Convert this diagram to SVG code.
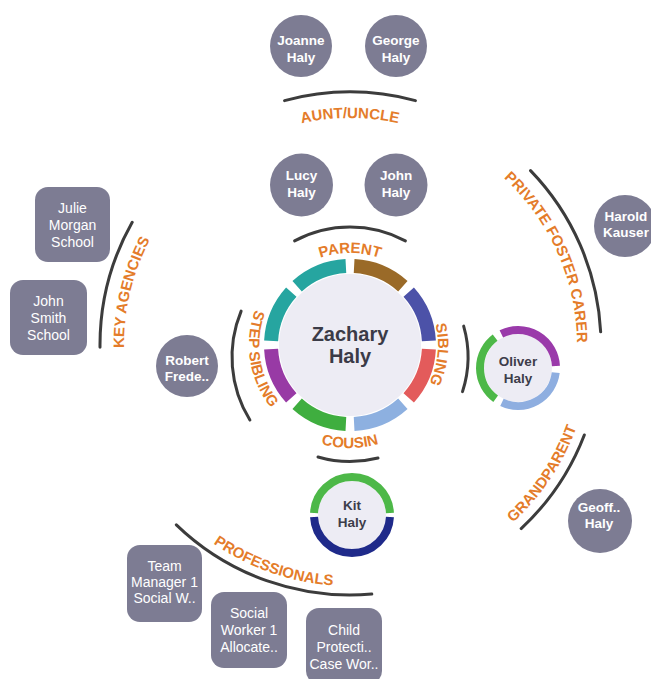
<svg xmlns="http://www.w3.org/2000/svg" width="651" height="679" viewBox="0 0 651 679">
<style>
.bg{fill:#ffffff}
.node{fill:#7d7c93}
.nt{font-family:"Liberation Sans",Arial,sans-serif;font-weight:bold;font-size:13.5px;fill:#ffffff;text-anchor:middle}
.bt{font-family:"Liberation Sans",Arial,sans-serif;font-size:14px;fill:#ffffff;text-anchor:middle}
.disc{fill:#edecf4}
.dt{font-family:"Liberation Sans",Arial,sans-serif;font-weight:bold;font-size:13.5px;fill:#3d3d4a;text-anchor:middle}
.ct{font-family:"Liberation Sans",Arial,sans-serif;font-weight:bold;font-size:20px;fill:#3b3b47;text-anchor:middle}
.seg{fill:none;stroke-width:14}
.seg2{fill:none;stroke-width:8}
.line{fill:none;stroke:#3c3c3c;stroke-width:3;stroke-linecap:round}
.lab{font-family:"Liberation Sans",Arial,sans-serif;font-weight:bold;font-size:15px;fill:#e47c2a}
</style>
<defs>
<path id="tp-parent" d="M270.32,299 A92,92 0 0 1 429.68,299"/>
<path id="tp-sibling" d="M401.73,273.81 A88,88 0 0 1 385.79,425.39"/>
<path id="tp-step" d="M286.44,266.51 A101,101 0 0 0 313.80,439.29"/>
<path id="tp-cousin" d="M260.80,396.5 A103,103 0 0 0 439.20,396.5"/>
<path id="tp-aunt" d="M153.41,231.5 A227,227 0 0 1 546.59,231.5"/>
<path id="tp-key" d="M194.43,508.93 A226,226 0 0 1 285.81,128.31"/>
<path id="tp-pfc" d="M373.73,119.24 A227,227 0 0 1 533.65,478.43"/>
<path id="tp-grand" d="M334.45,585.50 A241,241 0 0 0 566.05,238.22"/>
<path id="tp-prof" d="M113.19,389.75 A241,241 0 0 0 507.16,527.71"/>
</defs>
<rect class="bg" x="0" y="0" width="651" height="679"/>

<g id="connectors">
<path class="line" d="M294.60,240.81 A118,118 0 0 1 405.40,240.81"/>
<path class="line" d="M463.66,326.13 A112,112 0 0 1 462.52,391.61"/>
<path class="line" d="M241.13,311.08 A120,120 0 0 0 249.90,420.06"/>
<path class="line" d="M318,457 A115,115 0 0 0 378,458"/>
<path class="line" d="M284.52,100.62 A253,253 0 0 1 415.48,100.62"/>
<path class="line" d="M100.01,347.18 A250,250 0 0 1 132.20,222.28"/>
<path class="line" d="M530.55,170.64 A251,251 0 0 1 600.66,331.86"/>
<path class="line" d="M584.33,434.95 A251,251 0 0 1 521.18,528.57"/>
<path class="line" d="M371.79,594.05 A250,250 0 0 1 176.34,524.84"/>
</g>

<g id="labels">
<text class="lab"><textPath href="#tp-parent" startOffset="50%" text-anchor="middle">PARENT</textPath></text>
<text class="lab"><textPath href="#tp-sibling" startOffset="50%" text-anchor="middle">SIBLING</textPath></text>
<text class="lab"><textPath href="#tp-step" startOffset="50%" text-anchor="middle">STEP SIBLING</textPath></text>
<text class="lab"><textPath href="#tp-cousin" startOffset="50%" text-anchor="middle">COUSIN</textPath></text>
<text class="lab"><textPath href="#tp-aunt" startOffset="50%" text-anchor="middle">AUNT/UNCLE</textPath></text>
<text class="lab"><textPath href="#tp-key" startOffset="50%" text-anchor="middle">KEY AGENCIES</textPath></text>
<text class="lab"><textPath href="#tp-pfc" startOffset="50%" text-anchor="middle">PRIVATE FOSTER CARER</textPath></text>
<text class="lab"><textPath href="#tp-grand" startOffset="50%" text-anchor="middle">GRANDPARENT</textPath></text>
<text class="lab"><textPath href="#tp-prof" startOffset="50%" text-anchor="middle">PROFESSIONALS</textPath></text>
</g>

<g id="zachary">
<circle class="disc" cx="350" cy="345" r="71"/>
<path class="seg" stroke="#9a6a28" d="M354.13,266.11 A79,79 0 0 1 402.86,286.29"/>
<path class="seg" stroke="#4c52a8" d="M408.71,292.14 A79,79 0 0 1 428.89,340.87"/>
<path class="seg" stroke="#e35b5b" d="M428.89,349.13 A79,79 0 0 1 408.71,397.86"/>
<path class="seg" stroke="#8db0e0" d="M402.86,403.71 A79,79 0 0 1 354.13,423.89"/>
<path class="seg" stroke="#3fae3f" d="M345.87,423.89 A79,79 0 0 1 297.14,403.71"/>
<path class="seg" stroke="#983aa5" d="M291.29,397.86 A79,79 0 0 1 271.11,349.13"/>
<path class="seg" stroke="#26a5a0" d="M271.11,340.87 A79,79 0 0 1 291.29,292.14"/>
<path class="seg" stroke="#26a5a0" d="M297.14,286.29 A79,79 0 0 1 345.87,266.11"/>
<text class="ct" x="350" y="341">Zachary</text>
<text class="ct" x="350" y="363">Haly</text>
</g>

<g id="oliver">
<circle class="disc" cx="518" cy="368" r="34"/>
<path class="seg2" stroke="#9a3aaa" d="M501.34,333.85 A38,38 0 0 1 555.95,366.01"/>
<path class="seg2" stroke="#8eaee0" d="M555.72,372.63 A38,38 0 0 1 501.94,402.44"/>
<path class="seg2" stroke="#4db848" d="M495.66,398.74 A38,38 0 0 1 495.13,337.65"/>
<text class="dt" x="518" y="366">Oliver</text>
<text class="dt" x="518" y="383">Haly</text>
</g>

<g id="kit">
<circle class="disc" cx="352" cy="515" r="34"/>
<path class="seg2" stroke="#4db848" d="M314.05,513.01 A38,38 0 0 1 389.95,513.01"/>
<path class="seg2" stroke="#1f2a8a" d="M389.95,516.99 A38,38 0 0 1 314.05,516.99"/>
<text class="dt" x="352" y="510">Kit</text>
<text class="dt" x="352" y="527">Haly</text>
</g>

<g id="joanne">
<circle class="node" cx="301" cy="46" r="31"/>
<text class="nt" x="301" y="45">Joanne</text>
<text class="nt" x="301" y="62">Haly</text>
</g>
<g id="george">
<circle class="node" cx="396" cy="46" r="31"/>
<text class="nt" x="396" y="45">George</text>
<text class="nt" x="396" y="62">Haly</text>
</g>
<g id="lucy">
<circle class="node" cx="301.5" cy="185" r="31.5"/>
<text class="nt" x="301.5" y="180">Lucy</text>
<text class="nt" x="301.5" y="197">Haly</text>
</g>
<g id="john">
<circle class="node" cx="396" cy="185" r="31.5"/>
<text class="nt" x="396" y="180">John</text>
<text class="nt" x="396" y="197">Haly</text>
</g>
<g id="harold">
<circle class="node" cx="625" cy="226" r="31"/>
<text class="nt" x="626" y="221">Harold</text>
<text class="nt" x="626" y="237">Kauser</text>
</g>
<g id="robert">
<circle class="node" cx="187" cy="366" r="31"/>
<text class="nt" x="187" y="365">Robert</text>
<text class="nt" x="187" y="381">Frede..</text>
</g>
<g id="geoff">
<circle class="node" cx="600" cy="521" r="32"/>
<text class="nt" x="599" y="512">Geoff..</text>
<text class="nt" x="599" y="528">Haly</text>
</g>
<g id="julie">
<rect class="node" x="35" y="187" width="75" height="75" rx="13"/>
<text class="bt" x="72.5" y="213">Julie</text>
<text class="bt" x="72.5" y="230">Morgan</text>
<text class="bt" x="72.5" y="247">School</text>
</g>
<g id="johnsmith">
<rect class="node" x="10" y="280" width="77" height="75" rx="13"/>
<text class="bt" x="48.5" y="306">John</text>
<text class="bt" x="48.5" y="323">Smith</text>
<text class="bt" x="48.5" y="340">School</text>
</g>
<g id="teammanager">
<rect class="node" x="127" y="545" width="75" height="77" rx="13"/>
<text class="bt" x="164.5" y="571">Team</text>
<text class="bt" x="164.5" y="587">Manager 1</text>
<text class="bt" x="164.5" y="603">Social W..</text>
</g>
<g id="socialworker">
<rect class="node" x="211" y="592" width="76" height="76" rx="13"/>
<text class="bt" x="249" y="618">Social</text>
<text class="bt" x="249" y="635">Worker 1</text>
<text class="bt" x="249" y="652">Allocate..</text>
</g>
<g id="childprotection">
<rect class="node" x="306" y="608" width="76" height="76" rx="13"/>
<text class="bt" x="344" y="635">Child</text>
<text class="bt" x="344" y="652">Protecti..</text>
<text class="bt" x="344" y="669">Case Wor..</text>
</g>
</svg>
